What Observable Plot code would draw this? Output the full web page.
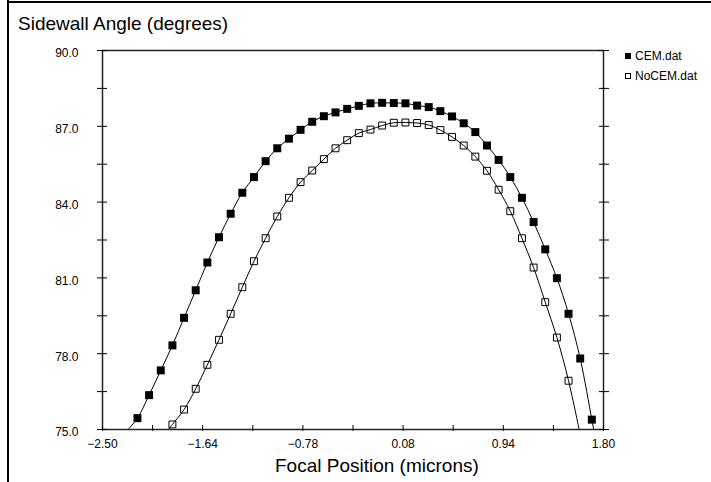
<!DOCTYPE html>
<html>
<head>
<meta charset="utf-8">
<script src="https://cdn.jsdelivr.net/npm/d3@7"></script>
<script src="https://cdn.jsdelivr.net/npm/@observablehq/plot@0.6"></script>
<style>
  body { margin: 0; background: #fff; }
  #wrap { position: relative; width: 711px; height: 482px; overflow: hidden; background: #fff;
          font-family: "Liberation Sans", Arial, Helvetica, sans-serif; color: #000; }
  #chart { position: absolute; left: 0; top: 0; }
  .edge-left { position: absolute; left: 7px; top: 0; width: 2px; height: 482px; background: #000; }
  .edge-top { position: absolute; left: 7px; top: 1px; width: 704px; height: 2px; background: #000; }
  #title { position: absolute; left: 18px; top: 14px; font-size: 19px; line-height: 19px; white-space: nowrap; }
  #xlabel { position: absolute; left: 275px; top: 456px; font-size: 19px; line-height: 19px; white-space: nowrap; }
  .leg { position: absolute; left: 625px; font-size: 12px; line-height: 12px; white-space: nowrap; }
  .leg .sw { display: inline-block; width: 6px; height: 6px; box-sizing: border-box; margin-right: 4px; vertical-align: 1px; }
  .leg .filled { background: #000; }
  .leg .open { background: #fff; border: 1px solid #000; }
</style>
</head>
<body>
<div id="wrap">
  <div id="chart"></div>
  <div class="edge-left"></div>
  <div class="edge-top"></div>
  <div id="title">Sidewall Angle (degrees)</div>
  <div id="xlabel">Focal Position (microns)</div>
  <div class="leg" style="top:50px"><span class="sw filled"></span>CEM.dat</div>
  <div class="leg" style="top:70px"><span class="sw open"></span>NoCEM.dat</div>
</div>
<script>
// ---- data ----
const seriesNames = ["CEM.dat", "NoCEM.dat"];

const cemX = [-2.2, -2.1, -2.0, -1.9, -1.8, -1.7, -1.6, -1.5, -1.4, -1.3,
              -1.2, -1.1, -1.0, -0.9, -0.8, -0.7, -0.6, -0.5, -0.4, -0.3,
              -0.2, -0.1, 0.0, 0.1, 0.2, 0.3, 0.4, 0.5, 0.6, 0.7,
              0.8, 0.9, 1.0, 1.1, 1.2, 1.3, 1.4, 1.5, 1.6, 1.7];
const cemY = [75.45, 76.36, 77.34, 78.33, 79.42, 80.51, 81.61, 82.61, 83.54, 84.37,
              84.99, 85.62, 86.13, 86.51, 86.86, 87.18, 87.40, 87.55, 87.69, 87.81,
              87.91, 87.93, 87.92, 87.91, 87.82, 87.76, 87.60, 87.39, 87.12, 86.77,
              86.24, 85.67, 84.99, 84.17, 83.21, 82.13, 80.99, 79.58, 77.81, 75.39];

const nocemX = [-1.9, -1.8, -1.7, -1.6, -1.5, -1.4, -1.3, -1.2, -1.1, -1.0,
                -0.9, -0.8, -0.7, -0.6, -0.5, -0.4, -0.3, -0.2, -0.1, 0.0,
                0.1, 0.2, 0.3, 0.4, 0.5, 0.6, 0.7, 0.8, 0.9, 1.0,
                1.1, 1.2, 1.3, 1.4, 1.5];
const nocemY = [75.20, 75.79, 76.61, 77.56, 78.55, 79.58, 80.63, 81.66, 82.57, 83.43,
                84.17, 84.79, 85.25, 85.70, 86.13, 86.45, 86.73, 86.87, 87.03, 87.14,
                87.15, 87.13, 87.05, 86.85, 86.58, 86.24, 85.80, 85.24, 84.49, 83.64,
                82.57, 81.41, 80.04, 78.64, 76.93];

// where each fitted curve leaves the plot frame
const cemTailX = [-2.3, 1.72];
const cemTailY = [74.9, 74.9];
const nocemTailX = [-1.95, 1.6];
const nocemTailY = [74.9, 74.8];

// ---- axes ----
const xDomain = [-2.5, 1.8];
const yDomain = [75, 90];
const xTicks = [-2.5, -2.07, -1.64, -1.21, -0.78, -0.35, 0.08, 0.51, 0.94, 1.37, 1.8];
const xTickLabels = [-2.5, -1.64, -0.78, 0.08, 0.94, 1.8];
const yTicks = [75, 76.5, 78, 79.5, 81, 82.5, 84, 85.5, 87, 88.5, 90];
const yTickLabels = [75, 78, 81, 84, 87, 90];

// ---- tables ----
const points = (xs, ys, s) => xs.map((x, i) => ({x, y: ys[i], series: s}));
const cemPts = points(cemX, cemY, seriesNames[0]);
const nocemPts = points(nocemX, nocemY, seriesNames[1]);
const cemLine = [
  {x: cemTailX[0], y: cemTailY[0]}, ...cemPts, {x: cemTailX[1], y: cemTailY[1]}
];
const nocemLine = [
  {x: nocemTailX[0], y: nocemTailY[0]}, ...nocemPts, {x: nocemTailX[1], y: nocemTailY[1]}
];

const blank = () => "";

const chart = Plot.plot({
  width: 711,
  height: 482,
  marginLeft: 102,
  marginRight: 108,
  marginTop: 50,
  marginBottom: 53,
  x: {domain: xDomain},
  y: {domain: yDomain},
  style: {fontFamily: '"Liberation Sans", Arial, sans-serif', fontSize: "12px", background: "transparent", color: "#000"},
  marks: [
    // curves
    Plot.line(cemLine, {x: "x", y: "y", curve: "catmull-rom", stroke: "#000", strokeWidth: 1, clip: true}),
    Plot.line(nocemLine, {x: "x", y: "y", curve: "catmull-rom", stroke: "#000", strokeWidth: 1, clip: true}),
    // markers
    Plot.dot(cemPts, {x: "x", y: "y", symbol: "square", r: 4.5, fill: "#000", stroke: "none"}),
    Plot.dot(nocemPts, {x: "x", y: "y", symbol: "square", r: 3.9, fill: "none", stroke: "#000", strokeWidth: 1}),
    // frame
    Plot.frame({stroke: "#222", strokeWidth: 1.5}),
    // tick marks crossing the frame
    Plot.axisY({anchor: "left", ticks: yTicks, tickSize: 10, dx: 5, tickFormat: blank, label: null, stroke: "#000"}),
    Plot.axisY({anchor: "right", ticks: yTicks, tickSize: 10, dx: -5, tickFormat: blank, label: null, stroke: "#000"}),
    Plot.axisX({anchor: "bottom", ticks: xTicks, tickSize: 6, dy: -4, tickFormat: blank, label: null, stroke: "#000"}),
    // tick labels
    Plot.axisY({anchor: "left", ticks: yTickLabels, tickSize: 0, tickPadding: 24, dy: 3,
                tickFormat: d3.format(".1f"), label: null, fontSize: 12, fill: "#000"}),
    Plot.axisX({anchor: "bottom", ticks: xTickLabels, tickSize: 0, tickPadding: 10,
                tickFormat: d3.format(".2f"), label: null, fontSize: 12, fill: "#000"})
  ]
});
document.getElementById("chart").appendChild(chart);
</script>
</body>
</html>
